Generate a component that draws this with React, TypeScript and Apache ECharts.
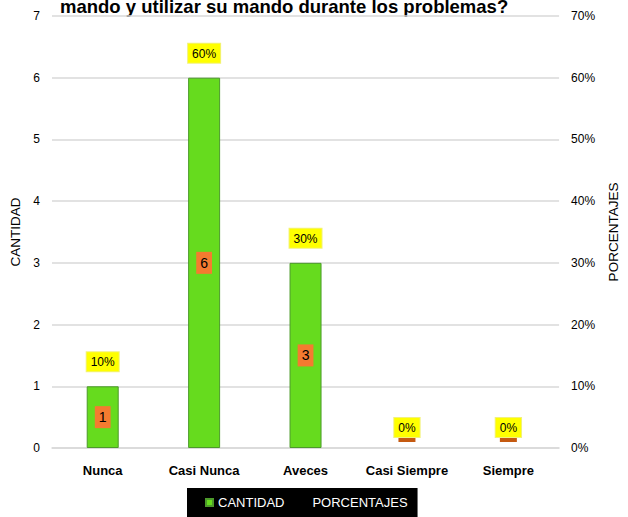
import React, { useEffect, useRef } from "react";
import * as echarts from "echarts";

const categories = ["Nunca", "Casi Nunca", "Aveces", "Casi Siempre", "Siempre"];
const cantidad = [1, 6, 3, 0, 0];
const porcentajes = [0.1, 0.6, 0.3, 0, 0];
const leftTicks = { min: 0, max: 7, interval: 1 };
const rightTicks = { min: 0, max: 0.7, interval: 0.1 };
const titleText = "mando y utilizar su mando durante los problemas?";

const FONT = "'Liberation Sans', Arial, sans-serif";

export default function App() {
  const ref = useRef<HTMLDivElement>(null);
  useEffect(() => {
    if (!ref.current) return;
    const chart = echarts.init(ref.current, null, { renderer: "svg" });
    const pct = (v: number) => Math.round(v * 100) + "%";
    chart.setOption({
      animation: false,
      textStyle: { fontFamily: FONT },
      graphic: [
        {
          type: "text",
          left: 60,
          top: -3,
          style: {
            text: titleText,
            font: "bold 18.5px " + FONT,
            fill: "#000",
          },
        },
      ],
      legend: {
        left: 187,
        top: 488,
        backgroundColor: "#000",
        padding: [8, 10, 9, 18],
        itemGap: 16,
        itemWidth: 7,
        itemHeight: 7,
        icon: "rect",
        textStyle: { color: "#fff", fontSize: 13, fontFamily: FONT },
        data: ["CANTIDAD", "PORCENTAJES"],
      },
      grid: { left: 52, right: 68, top: 16, bottom: 69, containLabel: false },
      xAxis: {
        type: "category",
        data: categories,
        axisLine: { show: true, lineStyle: { color: "#d9d9d9", width: 1.5 } },
        axisTick: { show: false },
        axisLabel: { color: "#000", fontWeight: "bold", fontSize: 13, margin: 16, interval: 0, fontFamily: FONT },
      },
      yAxis: [
        {
          type: "value",
          ...leftTicks,
          name: "CANTIDAD",
          nameLocation: "middle",
          nameRotate: 90,
          nameGap: 29,
          nameTextStyle: { color: "#000", fontSize: 13.5, fontFamily: FONT },
          axisLine: { show: false },
          axisTick: { show: false },
          axisLabel: { color: "#000", fontSize: 12, margin: 12, fontFamily: FONT },
          splitLine: { lineStyle: { color: "#d9d9d9", width: 1.5 } },
        },
        {
          type: "value",
          ...rightTicks,
          name: "PORCENTAJES",
          nameLocation: "middle",
          nameRotate: 90,
          nameGap: 43,
          nameTextStyle: { color: "#000", fontSize: 13.5, fontFamily: FONT },
          axisLine: { show: false },
          axisTick: { show: false },
          axisLabel: { color: "#000", fontSize: 12, margin: 12, formatter: pct, fontFamily: FONT },
          splitLine: { show: false },
        },
      ],
      series: [
        {
          name: "CANTIDAD",
          type: "bar",
          yAxisIndex: 0,
          barWidth: 32,
          barGap: "-100%",
          itemStyle: { color: "#66DB1E", borderColor: "#4C9A2A", borderWidth: 1 },
          data: cantidad.map((v) =>
            v === 0
              ? {
                  value: v,
                  itemStyle: { borderWidth: 0, color: "transparent" },
                  label: {
                    show: true,
                    position: "top",
                    distance: 6,
                    formatter: " ",
                    backgroundColor: "#C55A11",
                    width: 17,
                    height: 5,
                    padding: 0,
                    fontSize: 1,
                    lineHeight: 5,
                  },
                }
              : { value: v }
          ),
          label: {
            show: true,
            position: "inside",
            color: "#000",
            fontSize: 14,
            fontFamily: FONT,
            backgroundColor: "#F47B30",
            padding: [4, 4, 4, 4],
          },
          z: 2,
        },
        {
          name: "PORCENTAJES",
          type: "bar",
          yAxisIndex: 1,
          barWidth: 32,
          itemStyle: { color: "transparent" },
          data: porcentajes.map((v) =>
            v === 0 ? { value: v, label: { distance: 11 } } : { value: v }
          ),
          label: {
            show: true,
            position: "top",
            distance: 15,
            formatter: (p: any) => pct(p.value),
            color: "#000",
            fontSize: 12,
            fontFamily: FONT,
            backgroundColor: "#FFFF00",
            borderColor: "#F2F27A",
            borderWidth: 1,
            padding: [4, 4, 3, 4],
          },
          z: 3,
        },
      ],
    });
    return () => chart.dispose();
  }, []);
  return (
    <div
      ref={ref}
      style={{ position: "fixed", left: 0, top: 0, width: 628, height: 517, background: "#fff" }}
    />
  );
}
